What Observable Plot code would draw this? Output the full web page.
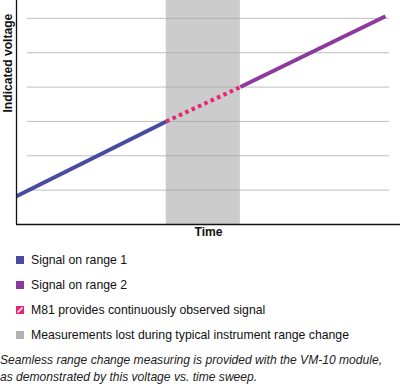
<!DOCTYPE html>
<html>
<head>
<meta charset="utf-8">
<script src="https://cdn.jsdelivr.net/npm/d3@7"></script>
<script src="https://cdn.jsdelivr.net/npm/@observablehq/plot@0.6"></script>
<style>
  html, body { margin: 0; padding: 0; background: #fff; }
  body { width: 400px; font-family: "Liberation Sans", Arial, sans-serif; color: #111; overflow: hidden; }
  #chart svg { display: block; }
  .legend { margin-top: 2px; }
  .item { display: flex; align-items: center; height: 25px; font-size: 13px; white-space: nowrap; }
  .item svg { margin-left: 16px; margin-right: 7px; flex: none; }
  .item span, .caption span { display: inline-block; transform-origin: 0 50%; white-space: nowrap; }
  .caption { font-style: italic; font-size: 13px; line-height: 17px; margin-top: 4px; color: #222; }
  .caption span { display: block; }
</style>
</head>
<body>
<div id="chart"></div>
<div class="legend" id="legend"></div>
<div class="caption" id="caption"></div>
<script>
// --- data (time in arbitrary units 0–100, indicated voltage in grid units) ---
const range1Time = [0, 39];
const range1Volt = [0.82, 3.0];
const gapTime = [39, 58.3];
const gapVolt = [3.0, 4.0];
const range2Time = [58.3, 96.1];
const range2Volt = [4.0, 6.06];
const lostBand = [39, 58.3];
const gridValues = [1, 2, 3, 4, 5, 6];
const gridExtent = [2.9, 97.1];
const xLabel = "Time";
const yLabel = "Indicated voltage";
const legendLabels = [
  "Signal on range 1",
  "Signal on range 2",
  "M81 provides continuously observed signal",
  "Measurements lost during typical instrument range change"
];
const legendColors = ["#4a4aa2", "#8c3a9e", "#e8246e", "#b3b3b3"];
const legendKinds = ["solid", "solid", "hatch", "solid"];
const captionLines = [
  "Seamless range change measuring is provided with the VM-10 module,",
  "as demonstrated by this voltage vs. time sweep."
];

// condensed look: horizontal squeeze factors measured from the font
const ctx = document.createElement("canvas").getContext("2d");
const measure = (txt, f) => { ctx.font = f; return ctx.measureText(txt).width; };
const FAM = "'Liberation Sans', Arial, sans-serif";
const kLegend = 318 / measure(legendLabels[3], "13px " + FAM);
const kCaption = 382 / measure(captionLines[0], "italic 13px " + FAM);
const kBold = 99 / measure(yLabel, "bold 13px " + FAM);

const toPts = (ts, vs) => ts.map((t, i) => ({t, v: vs[i]}));

const chart = Plot.plot({
  width: 400,
  height: 245,
  marginLeft: 16,
  marginRight: 0,
  marginTop: 0,
  marginBottom: 21,
  style: {fontFamily: FAM, background: "#fff"},
  x: {domain: [0, 100], axis: null},
  y: {domain: [0, 6.52], axis: null},
  marks: [
    Plot.rectX([{x1: lostBand[0], x2: lostBand[1]}], {x1: "x1", x2: "x2", fill: "#cccccc"}),
    Plot.ruleY(gridValues, {x1: gridExtent[0], x2: gridExtent[1], stroke: "#a8a8a8", strokeOpacity: 0.75, strokeWidth: 1}),
    Plot.line(toPts(range1Time, range1Volt), {x: "t", y: "v", stroke: legendColors[0], strokeWidth: 4, strokeLinecap: "butt"}),
    Plot.line(toPts(range2Time, range2Volt), {x: "t", y: "v", stroke: legendColors[1], strokeWidth: 4, strokeLinecap: "butt"}),
    Plot.line(toPts(gapTime, gapVolt), {x: "t", y: "v", stroke: legendColors[2], strokeWidth: 4, strokeDasharray: "3.5,3.5", strokeLinecap: "butt"}),
    Plot.ruleX([0], {stroke: "#111", strokeWidth: 1.3}),
    Plot.ruleY([0], {stroke: "#111", strokeWidth: 1.3}),
    Plot.text([xLabel], {frameAnchor: "bottom", dy: 11, fontWeight: "bold", fontSize: 13, fill: "#111", text: d => d, className: "axlabel"}),
    Plot.text([yLabel], {frameAnchor: "left", dx: -9, rotate: -90, fontWeight: "bold", fontSize: 13, fill: "#111", text: d => d, className: "axlabel"})
  ]
});
d3.select(chart).selectAll("text").each(function() {
  const t = this.getAttribute("transform") || "";
  this.setAttribute("transform", t + ` scale(${kBold},1)`);
});
document.getElementById("chart").appendChild(chart);

// --- legend ---
const legend = d3.select("#legend");
legendLabels.forEach((label, i) => {
  const row = legend.append("div").attr("class", "item");
  const s = row.append("svg").attr("width", 8).attr("height", 8);
  s.append("rect").attr("width", 8).attr("height", 8).attr("fill", legendColors[i]);
  if (legendKinds[i] === "hatch") {
    s.append("line").attr("x1", 1.5).attr("y1", 6.5).attr("x2", 6.5).attr("y2", 1.5)
      .attr("stroke", "#fff").attr("stroke-width", 1.6);
  }
  row.append("span").style("transform", `scaleX(${kLegend})`).text(label);
});

// --- caption ---
const cap = d3.select("#caption");
captionLines.forEach(line => cap.append("span").style("transform", `scaleX(${kCaption})`).text(line));
</script>
</body>
</html>
